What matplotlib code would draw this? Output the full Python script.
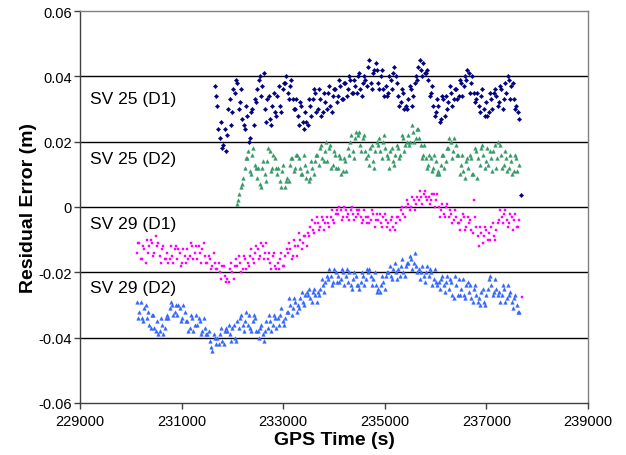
import numpy as np
import matplotlib
matplotlib.use("Agg")
import matplotlib.pyplot as plt

plt.rcParams['font.family'] = ['Liberation Sans', 'DejaVu Sans']

# residual errors in mm, one value every ~50 s
sv25_d1_start, sv25_d1_step = 231650, 49.5
sv25_d1 = [37, 31, 21, 18, 24, 22, 33, 29, 35, 38, 32, 27, 24, 28, 21, 30,
           33, 36, 40, 37, 30, 33, 27, 31, 29, 34, 31, 36, 38, 35, 37, 33,
           30, 28, 32, 26, 29, 25, 31, 33, 35, 30, 33, 29, 32, 35, 31, 34,
           36, 34, 37, 33, 38, 36, 39, 35, 37, 40, 36, 38, 39, 43, 38, 41,
           44, 38, 40, 36, 37, 35, 39, 41, 40, 34, 32, 35, 31, 33, 36, 34,
           40, 43, 42, 44, 41, 39, 35, 31, 29, 31, 27, 33, 34, 32, 35, 33,
           36, 34, 38, 37, 39, 41, 38, 35, 33, 31, 34, 30, 32, 29, 33, 35,
           34, 32, 36, 33, 35, 39, 37, 33, 31, 27, 3.7]
# the readings that fall between those
sv25_d1_mid = [34, 24, 26, 19, 17, 30, 25, 36, 39, 30, 36, 25, 31, 20, 29, 25,
               32, 39, 34, 41, 26, 34, 25, 35, 28, 37, 29, 38, 40, 33, 39, 30,
               33, 25, 31, 24, 26, 33, 28, 36, 29, 36, 28, 35, 30, 37, 29, 36,
               32, 39, 33, 38, 34, 40, 35, 39, 35, 41, 34, 40, 37, 45, 36, 42,
               42, 36, 42, 34, 34, 40, 36, 43, 38, 31, 36, 30, 30, 37, 31, 38,
               39, 45, 40, 41, 42, 34, 37, 28, 33, 26, 34, 28, 30, 37, 31, 36,
               33, 39, 34, 40, 42, 35, 40, 32, 35, 29, 36, 28, 28, 35, 30, 36,
               31, 37, 30, 38, 40, 33, 38, 30, 29]

sv25_d2_start, sv25_d2_step = 232090, 49.5
sv25_d2 = [1, 4, 7, 12, 15, 11, 16, 13, 9, 7, 12, 10, 14, 17, 12, 15,
           10, 8, 11, 6, 9, 13, 15, 12, 16, 12, 10, 13, 11, 9, 12, 14,
           16, 18, 15, 17, 14, 19, 13, 16, 12, 15, 11, 14, 18, 20, 17, 21,
           22, 19, 21, 17, 16, 18, 14, 17, 19, 17, 20, 18, 15, 17, 14, 16,
           18, 16, 21, 19, 22, 20, 23, 21, 24, 19, 16, 15, 13, 15, 12, 14,
           11, 13, 16, 14, 18, 20, 17, 19, 16, 13, 11, 14, 12, 15, 10, 17,
           15, 18, 16, 14, 13, 15, 17, 12, 20, 16, 13, 15, 12, 14, 11, 15, 13]
sv25_d2_mid = [2, 6, 9, 15, 17, 10, 18, 12, 12, 6, 14, 8, 18, 11, 16, 12,
               12, 6, 13, 8, 8, 15, 11, 16, 15, 10, 16, 9, 8, 14, 10, 16,
               13, 19, 14, 20, 18, 12, 17, 12, 16, 10, 15, 11, 16, 22, 15, 23,
               23, 17, 22, 15, 13, 19, 12, 20, 21, 15, 22, 16, 12, 18, 13, 19,
               15, 22, 17, 20, 19, 25, 20, 24, 21, 15, 19, 12, 16, 11, 16, 10,
               10, 16, 12, 18, 21, 15, 21, 16, 10, 16, 9, 15, 16, 10, 18, 9,
               13, 19, 12, 18, 17, 11, 19, 15, 19, 12, 17, 11, 16, 10, 16, 11]

sv29_d1_start, sv29_d1_step = 230120, 49.5
sv29_d1 = [-14, -11, -16, -13, -10, -12, -11, -14, -12, -15, -13, -16,
           -14, -16, -15, -13, -16, -14, -17, -15, -13, -15, -12, -14,
           -16, -14, -13, -15, -17, -16, -18, -17, -19, -20, -18, -21,
           -22, -19, -20, -18, -18, -17, -19, -16, -17, -15, -16, -14,
           -13, -15, -12, -14, -16, -17, -15, -18, -17, -16, -18, -15,
           -14, -13, -15, -12, -12, -10, -11, -9, -8, -6, -7, -5,
           -5, -6, -4, -5, -5, -3, -4, -2, -2, -1, -3, -1,
           -2, -1, -2, -3, -2, -3, -4, -3, -3, -4, -2, -4,
           -4, -5, -3, -4, -5, -4, -6, -5, -3, -1, -2, 0,
           1, 0, 2, 1, 2, 3, 4, 3, 3, 2, 4, 2,
           0, -1, -2, 0, -3, -2, -4, -3, -5, -4, -3, -6,
           -5, -7, 2, -6, -12, -8, -9, -7, -8, -6, -9, -7,
           -4, -3, -2, -4, -5, -3, -4, -6, -4, -27.7]
sv29_d1_mid = [-11, -16, -12, -17, -14, -10, -15, -9, -11, -17, -12, -16,
               -17, -12, -17, -12, -13, -18, -13, -17, -16, -11, -16, -12,
               -12, -17, -11, -17, -15, -19, -14, -19, -17, -22, -18, -23,
               -23, -17, -22, -16, -15, -20, -15, -19, -18, -13, -17, -12,
               -16, -11, -16, -11, -14, -19, -14, -19, -19, -14, -18, -13,
               -11, -16, -10, -15, -8, -13, -9, -12, -9, -4, -8, -3,
               -7, -3, -7, -3, -6, -1, -5, -1, 0, -4, 0, -3,
               -4, 0, -4, -1, -1, -5, -1, -5, -5, -1, -6, -2,
               -2, -6, -2, -6, -7, -3, -7, -3, -4, 0, -3, 2,
               -1, 3, -1, 3, 5, 1, 5, 2, 1, 4, 0, 4,
               -3, 1, -3, 1, -1, -5, -1, -5, -7, -2, -7, -3,
               -4, -8, -3, -9, -6, -11, -6, -10, -10, -5, -10, -5,
               -1, -5, -1, -6, -2, -7, -2, -6]

sv29_d2_start, sv29_d2_step = 230120, 49.5
sv29_d2 = [-29, -32, -34, -31, -34, -36, -33, -37, -35, -38, -36, -37,
           -33, -31, -30, -32, -33, -31, -34, -32, -35, -37, -34, -36,
           -36, -35, -38, -37, -39, -41, -44, -40, -40, -39, -41, -38,
           -38, -39, -37, -40, -35, -34, -36, -35, -36, -37, -35, -34,
           -38, -37, -39, -38, -37, -35, -36, -34, -34, -33, -35, -34,
           -32, -30, -31, -29, -30, -28, -29, -27, -27, -28, -26, -27,
           -26, -25, -24, -23, -22, -21, -23, -20, -21, -22, -20, -21,
           -23, -24, -22, -21, -24, -23, -21, -22, -20, -21, -22, -24,
           -25, -24, -23, -21, -20, -21, -19, -20, -19, -18, -20, -18,
           -17, -16, -17, -18, -19, -20, -21, -20, -21, -20, -22, -23,
           -23, -22, -24, -23, -25, -23, -28, -24, -22, -25, -27, -24,
           -26, -28, -25, -27, -28, -26, -29, -27, -22, -24, -26, -25,
           -26, -27, -25, -28, -27, -29, -28, -30, -32]
sv29_d2_mid = [-34, -29, -35, -30, -32, -37, -33, -38, -39, -34, -39, -34,
               -34, -29, -33, -30, -30, -35, -30, -35, -38, -33, -38, -33,
               -34, -39, -34, -39, -38, -43, -39, -42, -42, -37, -42, -37,
               -36, -41, -36, -41, -37, -33, -38, -32, -33, -38, -33, -38,
               -40, -36, -41, -35, -33, -38, -33, -37, -36, -31, -36, -32,
               -28, -33, -28, -32, -31, -26, -30, -26, -25, -29, -25, -29,
               -27, -22, -26, -21, -19, -24, -19, -23, -23, -19, -24, -19,
               -20, -25, -20, -24, -25, -20, -24, -19, -19, -24, -20, -26,
               -26, -21, -25, -20, -18, -22, -17, -22, -21, -16, -21, -17,
               -15, -19, -14, -20, -22, -18, -23, -18, -19, -24, -19, -24,
               -25, -21, -26, -21, -22, -27, -21, -27, -27, -22, -28, -23,
               -24, -29, -24, -29, -30, -25, -30, -25, -21, -27, -22, -27,
               -29, -24, -29, -24, -26, -31, -27, -32]

series = [
    ("SV 25 (D1)", sv25_d1_start, sv25_d1_step, sv25_d1, sv25_d1_mid, "#000080", "D", 2.2, 0.0331),
    ("SV 25 (D2)", sv25_d2_start, sv25_d2_step, sv25_d2, sv25_d2_mid, "#339966", "^", 2.6, 0.0147),
    ("SV 29 (D1)", sv29_d1_start, sv29_d1_step, sv29_d1, sv29_d1_mid, "#FF00FF", "s", 2.1, -0.0052),
    ("SV 29 (D2)", sv29_d2_start, sv29_d2_step, sv29_d2, sv29_d2_mid, "#3366FF", "^", 2.6, -0.0245),
]

fig = plt.figure(figsize=(6.26, 4.56), dpi=100)
ax = fig.add_axes([80 / 626, 1 - 404 / 456, 508 / 626, 392 / 456])

for y in [0.04, 0.02, 0.0, -0.02, -0.04]:
    ax.axhline(y, color="black", lw=1.0, zorder=1)

for name, start, step, vals, mids, col, mk, ms, ylab in series:
    t = np.concatenate([start + step * np.arange(len(vals)),
                        start + step / 2 + step * np.arange(len(mids))])
    v = np.concatenate([np.array(vals), np.array(mids)]) / 1000.0
    ax.plot(t, v, linestyle="none", marker=mk, ms=ms, color=col, mec=col,
            mew=0.3, zorder=3)
    ax.text(229200, ylab, name, fontsize=12.5, va="center", ha="left", zorder=4)

ax.set_xlim(229000, 239000)
ax.set_ylim(-0.06, 0.06)
ax.set_xticks(np.arange(229000, 239001, 2000))
ax.set_yticks([-0.06, -0.04, -0.02, 0, 0.02, 0.04, 0.06])
ax.set_yticklabels(["-0.06", "-0.04", "-0.02", "0", "0.02", "0.04", "0.06"])

for s in ["top", "right"]:
    ax.spines[s].set_color("#808080")
    ax.spines[s].set_linewidth(1.0)
for s in ["left", "bottom"]:
    ax.spines[s].set_color("#404040")
    ax.spines[s].set_linewidth(1.0)

ax.tick_params(direction="out", length=4, width=1, color="#404040", labelsize=10.5)
ax.tick_params(axis="y", pad=2)
ax.tick_params(axis="x", pad=4)

ax.set_xlabel("GPS Time (s)", fontsize=14, fontweight="bold", labelpad=2)
ax.set_ylabel("Residual Error (m)", fontsize=14, fontweight="bold", labelpad=1)

fig.savefig("out.png", dpi=100)
